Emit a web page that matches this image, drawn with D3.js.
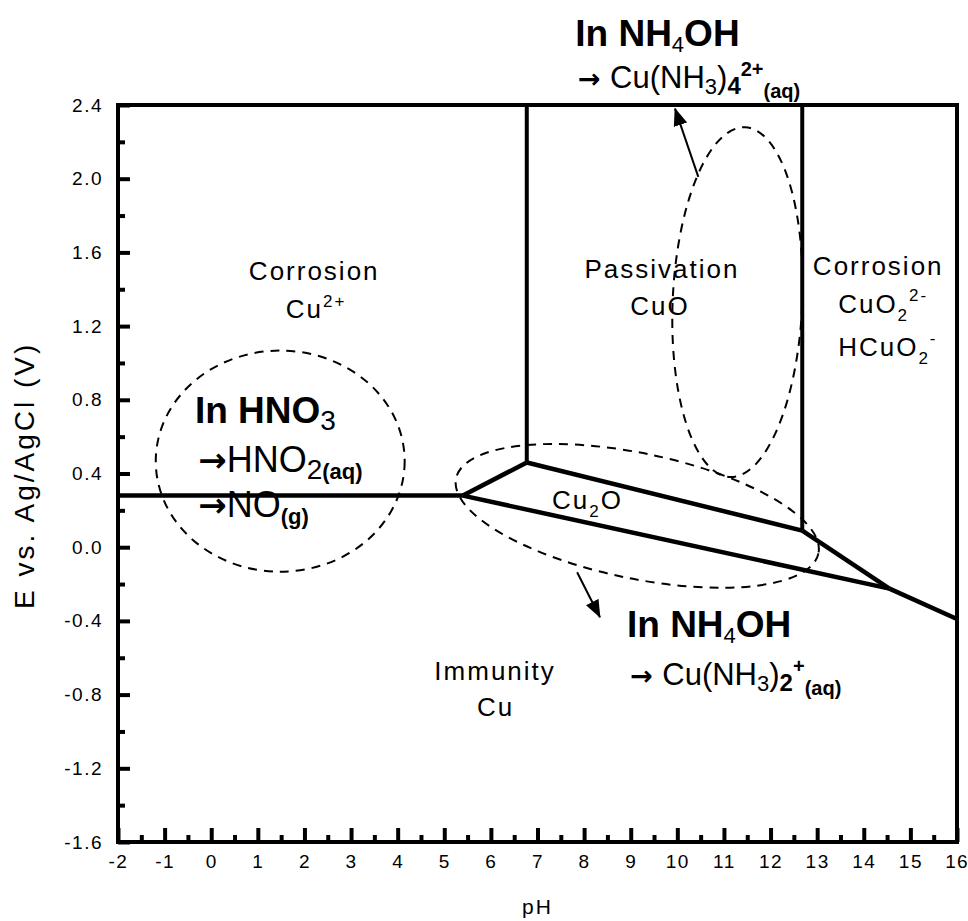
<!DOCTYPE html>
<html>
<head>
<meta charset="utf-8">
<script src="https://cdn.jsdelivr.net/npm/d3@7"></script>
<style>
  body { margin: 0; background: #fff; }
  text { font-family: 'Liberation Sans', Arial, sans-serif; fill: #000; }
</style>
</head>
<body>
<div id="chart_box"></div>
<script>
// axis ticks
var xTicks = [-2, -1, 0, 1, 2, 3, 4, 5, 6, 7, 8, 9, 10, 11, 12, 13, 14, 15, 16];
var yTicks = [-1.6, -1.2, -0.8, -0.4, 0.0, 0.4, 0.8, 1.2, 1.6, 2.0, 2.4];

// stability boundaries, [pH, E]
var cu2Cu     = [[-2, 0.28], [5.4, 0.28]];
var cu2Cu2O   = [[5.4, 0.28], [6.77, 0.46]];
var cu2CuO    = [[6.77, 0.46], [6.77, 2.4]];
var cu2oCuO   = [[6.77, 0.46], [12.68, 0.09]];
var cuOCuO2   = [[12.68, 0.09], [12.68, 2.4]];
var cuCu2O    = [[5.4, 0.28], [14.55, -0.225]];
var cu2oCuO2  = [[12.68, 0.09], [14.55, -0.225]];
var cuCuO2    = [[14.55, -0.225], [16, -0.39]];

// dashed regions: centre pH, centre E, half width (pH), half height (V), tilt (deg)
var hno3Region = [1.48, 0.467, 2.67, 0.60, 0];
var cu2oRegion = [9.14, 0.17, 3.97, 0.34, 11.7];
var cuoRegion  = [11.29, 1.33, 1.39, 0.95, 2.5];

// arrows: from [pH, E] to [pH, E]
var arrowUp   = [[10.45, 2.01], [9.95, 2.38]];
var arrowDown = [[7.85, -0.136], [8.34, -0.38]];

var margin = {top: 105, right: 11, bottom: 79, left: 118};
var W = 968, H = 921;
var width = W - margin.left - margin.right;
var height = H - margin.top - margin.bottom;

var svg = d3.select("#chart_box").append("svg")
    .attr("width", W)
    .attr("height", H);

var g = svg.append("g").attr("transform", "translate(" + margin.left + "," + margin.top + ")");

var x = d3.scaleLinear().domain([-2, 16]).range([0, width]);
var y = d3.scaleLinear().domain([-1.6, 2.4]).range([height, 0]);

var defs = svg.append("defs");
defs.append("marker").attr("id", "head")
    .attr("markerUnits", "userSpaceOnUse")
    .attr("viewBox", "0 -8 18 16")
    .attr("refX", 17).attr("refY", 0)
    .attr("markerWidth", 18).attr("markerHeight", 16)
    .attr("orient", "auto")
  .append("path").attr("d", "M0,-7L18,0L0,7Z").attr("fill", "#000");

// minor ticks between majors
var xMinor = d3.pairs(xTicks).map(function(p) { return (p[0] + p[1]) / 2; });
var yMinor = d3.pairs(yTicks).map(function(p) { return (p[0] + p[1]) / 2; });

var xAxis = g.append("g").attr("class", "x_axis").attr("transform", "translate(0," + height + ")")
    .call(d3.axisBottom(x).tickValues(xTicks).tickSizeInner(-14).tickSizeOuter(0).tickPadding(13)
      .tickFormat(function(d) { return String(d); }));
g.append("g").attr("transform", "translate(0," + height + ")")
    .call(d3.axisBottom(x).tickValues(xMinor).tickSizeInner(-7).tickSizeOuter(0).tickFormat(""));

g.append("g").attr("class", "y_axis")
    .call(d3.axisLeft(y).tickValues(yTicks).tickSizeInner(-12).tickSizeOuter(0).tickPadding(15)
      .tickFormat(function(d) { return d.toFixed(1); }));
g.append("g")
    .call(d3.axisLeft(y).tickValues(yMinor).tickSizeInner(-7).tickSizeOuter(0).tickFormat(""));

g.selectAll(".domain").remove();
g.selectAll(".tick line").attr("stroke", "#000").attr("stroke-width", 4);
g.selectAll(".tick text").style("font-size", "19px").style("letter-spacing", "1.5px").attr("fill", "#000");
// last pH label sits on the page edge, pull it in a little
xAxis.selectAll(".tick text").filter(function(d) { return d === 16; })
    .attr("text-anchor", "end").attr("dx", 11).style("letter-spacing", "1px");

// frame
g.append("rect").attr("x", 0).attr("y", 0).attr("width", width).attr("height", height)
    .attr("fill", "none").attr("stroke", "#000").attr("stroke-width", 4);

// axis titles
svg.append("text").text("pH")
    .attr("x", margin.left + width / 2).attr("y", 914)
    .attr("text-anchor", "middle").style("font-size", "21px").style("letter-spacing", "2px");
svg.append("text").text("E vs. Ag/AgCl (V)")
    .attr("transform", "translate(34," + (margin.top + y(0.39)) + ") rotate(-90)")
    .attr("text-anchor", "middle").style("font-size", "28px").style("letter-spacing", "3px");

// boundaries
var line = d3.line().x(function(d) { return x(d[0]); }).y(function(d) { return y(d[1]); });
var thick = [cu2Cu, cu2Cu2O, cu2oCuO, cuCu2O, cu2oCuO2, cuCuO2];
var verts = [cu2CuO, cuOCuO2];
g.selectAll(".bound").data(thick).enter().append("path").attr("class", "bound")
    .attr("d", line).attr("fill", "none").attr("stroke", "#000")
    .attr("stroke-width", 4.5).attr("stroke-linejoin", "round");
g.selectAll(".vbound").data(verts).enter().append("path").attr("class", "vbound")
    .attr("d", line).attr("fill", "none").attr("stroke", "#000").attr("stroke-width", 4);

// dashed ellipses
g.selectAll(".region").data([hno3Region, cu2oRegion, cuoRegion]).enter().append("ellipse")
    .attr("class", "region")
    .attr("cx", 0).attr("cy", 0)
    .attr("rx", function(d) { return x(d[0] + d[2]) - x(d[0]); })
    .attr("ry", function(d) { return y(d[1]) - y(d[1] + d[3]); })
    .attr("transform", function(d) { return "translate(" + x(d[0]) + "," + y(d[1]) + ") rotate(" + d[4] + ")"; })
    .attr("fill", "none").attr("stroke", "#000").attr("stroke-width", 2)
    .attr("stroke-dasharray", "9,7");

// arrows
g.selectAll(".arrow").data([arrowUp, arrowDown]).enter().append("path").attr("class", "arrow")
    .attr("d", line).attr("fill", "none").attr("stroke", "#000").attr("stroke-width", 2)
    .attr("marker-end", "url(#head)");

// rich text helper: segments of [text, size, weight, shift, family]
function rich(pH, E, anchor, segs, spacing) {
  var t = g.append("text").attr("x", x(pH)).attr("y", y(E)).attr("text-anchor", anchor)
      .style("letter-spacing", (spacing || 0) + "px");
  var prev = 0;
  segs.forEach(function(s) {
    var ts = t.append("tspan").text(s[0])
      .style("font-size", s[1] + "px")
      .style("font-weight", s[2] || "normal")
      .attr("dy", (s[3] || 0) - prev);
    if (s[4]) ts.style("font-family", s[4]);
    prev = s[3] || 0;
  });
  return t;
}

// region names
var R = 26, S = 17;
rich(2.21, 1.45, "middle", [["Corrosion", R]], 2);
rich(2.25, 1.243, "middle", [["Cu", R], ["2+", S, "normal", -11]], 2);
rich(9.67, 1.46, "middle", [["Passivation", R]], 2);
rich(9.63, 1.26, "middle", [["CuO", R]], 2);
rich(14.31, 1.476, "middle", [["Corrosion", R]], 2);
rich(13.45, 1.27, "start", [["CuO", R], ["2", S, "normal", 8], ["2-", S, "normal", -12]], 2);
rich(13.45, 1.04, "start", [["HCuO", R], ["2", S, "normal", 8], ["-", S, "normal", -12]], 2);
rich(7.31, 0.21, "start", [["Cu", R], ["2", S, "normal", 8], ["O", R, "normal", 0]], 2);
rich(6.09, -0.72, "middle", [["Immunity", R]], 2);
rich(6.1, -0.917, "middle", [["Cu", R]], 2);

// reaction notes
var B = 37, AR = "'DejaVu Sans', sans-serif";
rich(-0.35, 0.673, "start", [["In HNO", B, "bold"], ["3", 28, "normal", 7]]);
rich(-0.28, 0.407, "start", [["\u2192", 34, "bold", 0, AR], ["HNO", 36], ["2", 28, "normal", 7], ["(aq)", 22, "bold", 7]]);
rich(-0.28, 0.163, "start", [["\u2192", 34, "bold", 0, AR], ["NO", 36], ["(g)", 22, "bold", 7]]);
rich(7.81, 2.72, "start", [["In NH", B, "bold"], ["4", 22, "normal", 6], ["OH", B, "bold", 0]]);
rich(7.87, 2.49, "start", [["\u2192 ", 27, "bold", 0, AR], ["Cu(NH", 31], ["3", 22, "normal", 6], [")", 31, "normal", 0],
  ["4", 24, "bold", 6], ["2+", 20, "bold", -12], ["(aq)", 20, "bold", 10]]);
rich(8.92, -0.49, "start", [["In NH", B, "bold"], ["4", 22, "normal", 6], ["OH", B, "bold", 0]]);
rich(8.99, -0.75, "start", [["\u2192 ", 27, "bold", 0, AR], ["Cu(NH", 31], ["3", 22, "normal", 6], [")", 31, "normal", 0],
  ["2", 24, "bold", 6], ["+", 20, "bold", -12], ["(aq)", 20, "bold", 10]]);
</script>
</body>
</html>
